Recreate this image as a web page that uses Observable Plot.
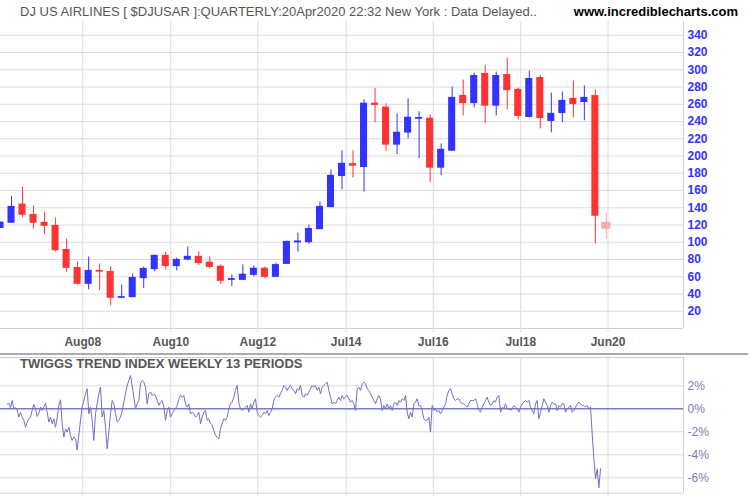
<!DOCTYPE html>
<html>
<head>
<meta charset="utf-8">
<script src="https://cdn.jsdelivr.net/npm/d3@7"></script>
<script src="https://cdn.jsdelivr.net/npm/@observablehq/plot@0.6"></script>
<style>
  html, body { margin: 0; padding: 0; background: #fff; }
  #wrap { position: relative; width: 750px; height: 500px; overflow: hidden; font-family: "Liberation Sans", Arial, sans-serif; }
  .abs { position: absolute; }
  #title { left: 20px; top: 4px; font-size: 13px; line-height: 15px; color: #555; white-space: nowrap; z-index: 2; }
  #site { right: 12px; top: 4px; font-size: 13px; line-height: 15px; font-weight: bold; color: #000; white-space: nowrap; z-index: 2; }
  #sep { left: 0; top: 353px; width: 748px; height: 2px; background: #acacac; z-index: 2; }
  #ttitle { left: 20px; top: 356px; font-size: 13px; line-height: 15px; font-weight: bold; color: #555; white-space: nowrap; z-index: 2; }
  #p1 { left: 0; top: 0; }
  #p2 { left: 0; top: 355px; }
</style>
</head>
<body>
<div id="wrap">
  <div id="p1" class="abs"></div>
  <div id="p2" class="abs"></div>
  <div id="title" class="abs">DJ US AIRLINES [ $DJUSAR ]:QUARTERLY:20Apr2020 22:32 New York : Data Delayed..</div>
  <div id="site" class="abs">www.incrediblecharts.com</div>
  <div id="sep" class="abs"></div>
  <div id="ttitle" class="abs">TWIGGS TREND INDEX WEEKLY 13 PERIODS</div>
</div>
<script>
// ---------- Quarterly candles (Q3 2006 .. Q2 2020) ----------
const quarters = [
  "2006Q3","2006Q4","2007Q1","2007Q2","2007Q3","2007Q4","2008Q1","2008Q2","2008Q3","2008Q4",
  "2009Q1","2009Q2","2009Q3","2009Q4","2010Q1","2010Q2","2010Q3","2010Q4","2011Q1","2011Q2",
  "2011Q3","2011Q4","2012Q1","2012Q2","2012Q3","2012Q4","2013Q1","2013Q2","2013Q3","2013Q4",
  "2014Q1","2014Q2","2014Q3","2014Q4","2015Q1","2015Q2","2015Q3","2015Q4","2016Q1","2016Q2",
  "2016Q3","2016Q4","2017Q1","2017Q2","2017Q3","2017Q4","2018Q1","2018Q2","2018Q3","2018Q4",
  "2019Q1","2019Q2","2019Q3","2019Q4","2020Q1","2020Q2"
];
const openV = [
  116.6,122.7,143.6,131.6,122.4,118.9,91.0,70.1,51.9,66.7,
  65.5,35.7,36.5,58.5,69.0,84.1,72.5,80.0,83.0,76.2,
  71.5,56.5,56.5,62.3,69.2,60.0,75.0,100.0,100.2,115.3,
  140.9,176.9,190.5,187.4,260.6,256.0,213.3,227.3,243.3,243.2,
  186.6,206.2,269.6,261.5,295.0,258.5,293.8,276.5,245.4,290.4,
  240.8,250.0,266.2,262.7,269.4,122.4
];
const highV = [
  123.0,152.9,164.1,142.1,135.1,128.2,103.8,77.1,82.9,74.8,
  71.3,50.4,63.2,71.3,85.2,88.7,81.7,94.5,88.8,83.1,
  73.8,62.3,73.8,72.7,71.5,75.9,101.4,110.7,119.9,146.7,
  183.9,206.0,206.0,265.3,278.1,260.6,249.0,266.4,251.3,247.8,
  214.1,280.0,288.1,296.2,305.4,297.3,313.5,278.8,298.5,293.8,
  273.1,274.2,286.9,281.2,276.3,133.9
];
const lowV = [
  116.0,122.7,128.6,115.4,108.8,88.7,65.5,50.4,45.0,43.8,
  26.4,34.5,35.7,46.2,65.9,67.8,66.7,78.5,73.0,69.2,
  50.8,48.5,55.4,60.0,57.7,60.0,75.0,88.6,97.8,115.3,
  140.9,160.6,174.6,158.3,238.5,205.2,201.7,219.9,197.1,169.1,
  177.3,206.0,246.5,255.8,237.3,246.5,253.5,241.9,244.2,231.5,
  226.9,238.5,244.2,240.8,98.1,103.1
];
const closeV = [
  122.7,140.9,132.0,122.7,119.3,91.0,70.5,51.9,66.7,66.0,
  35.7,36.3,58.5,69.0,84.1,72.5,79.4,83.0,76.0,71.5,
  55.4,57.2,62.3,69.2,60.0,73.4,100.3,100.8,115.3,140.9,
  176.9,190.9,188.9,260.6,259.4,213.3,226.9,244.3,244.0,186.6,
  207.1,267.3,261.5,292.7,258.5,292.7,276.5,246.5,289.2,244.2,
  248.8,263.8,260.4,267.3,130.9,115.8
];
const priceTicks = [20,40,60,80,100,120,140,160,180,200,220,240,260,280,300,320,340];

// ---------- Date axis (positions in quarters since Q3 2006) ----------
const xTickLabels = ["Aug08","Aug10","Aug12","Jul14","Jul16","Jul18","Jun20"];
const xTickPos    = [7.47, 15.46, 23.36, 31.38, 39.28, 47.23, 55.15];

// ---------- Twiggs Trend Index (%), sampled every ~2 weeks ----------
const twigStart = 0.605;   // quarters since Q3 2006
const twigStep  = 0.1513;  // quarters between samples
const twigVals = [
  0.38,0.49,0.1,0.72,0,0.1,-0.1,-0.72,-0.3,-0.72,-1.0,-1.6,-1.16,-0.87,-0.72,-0.15,0.38,0,-0.67,-0.43,
  0.14,-0.15,0.14,0.49,-0.3,-1.16,-0.72,-1.3,-0.87,-1.6,-0.8,0.3,0.78,-1.3,-2.46,-1.74,-2.03,-1.6,-2.3,-2.75,
  -2.46,-2.6,-3.57,-2.3,-1.0,0.14,0.72,1.3,1.74,-0.43,0.14,-1.0,-2.75,-0.43,0.43,1.3,1.88,-0.72,-0.15,-1.6,
  -3.48,-2.0,-0.43,0.72,0.43,-0.43,-1.16,-1.0,-0.72,-0.15,0.58,1.3,2.03,2.46,2.9,2.03,1.01,0,0.43,0.72,
  2.17,2.46,2.32,1.88,0.43,1.3,1.45,1.16,1.3,1.16,0.72,0.29,0.58,0.72,0.14,-1.0,-0.15,0.14,-0.72,-0.43,
  -0.15,0,0.29,0.87,1.16,1.01,1.16,0.43,0.14,0.43,-0.43,-0.3,-0.43,-0.72,-0.58,-0.3,-1.3,-0.72,-0.3,-0.15,
  -1.0,-0.87,-1.3,-1.45,-1.88,-2.32,-2.46,-2.6,-1.74,-1.3,-0.87,-1.0,-0.72,0,0.43,0.58,1.01,1.6,2.03,0.5,
  0,-0.15,0,0.14,0.29,-0.3,0.43,0,0.58,0.87,-0.3,-0.58,-0.72,-0.58,-0.3,-0.43,-0.15,-0.58,-0.3,0,
  0.72,1.01,1.16,1.01,1.3,1.6,2.03,1.88,1.6,1.88,2.03,1.74,1.6,1.3,1.74,1.6,2.03,1.16,1.01,1.3,
  1.16,1.45,1.74,2.03,1.88,2.03,1.6,1.88,1.3,1.88,2.03,2.17,2.32,1.6,1.01,0.43,0.58,0.43,0.72,1.01,
  0.72,1.16,0.87,1.01,1.16,0.87,0.58,0.72,0.43,-0.15,1.74,1.88,1.6,2.17,2.32,2.17,1.74,1.6,1.3,1.01,
  0.72,0.43,0.87,1.16,0.87,-0.15,0.29,0,0.43,0,0.29,-0.15,0.43,0.58,0.29,0.72,0.58,0.87,0.72,1.16,
  -0.3,-0.87,-0.3,-0.72,0.43,0.58,0.87,0.29,0.29,-0.15,-0.87,-1.0,-1.0,-0.72,-2.03,0.29,-0.15,0,-0.3,-0.15,
  -0.43,-0.15,0.14,0.43,1.16,1.6,1.74,1.3,0.87,0.72,0.87,0.87,0.58,0.43,0.43,0.29,0.14,0.43,0.72,0.72,
  0.72,0.87,0.43,-0.15,-0.3,0.14,0.43,0.72,1.01,0.58,0.29,0.43,0.72,0.58,1.01,1.16,-0.3,0.14,0,0.43,
  0,0,-0.15,0,0.29,0.14,0,-0.3,0.14,0.43,0.58,0.72,0.58,0.72,0.14,-0.15,-0.43,0.43,0.72,-0.87,
  -0.3,0.29,0.87,0.58,0.29,-0.3,0.29,0.58,0.43,0.43,-0.15,0.29,0.14,0.43,0.43,-0.3,0,0.14,0.29,-0.3,
  -0.15,0.14,0.43,0.58,0.43,0.29,0.29,0.14,0.29,0,0.14,-2.2,-4.35,-6.09,-5.22,-6.87,-5.22
];
const pctTicks = [-6,-4,-2,0,2];

// ---------- Build ----------
const fontFam = '"Liberation Sans", Arial, sans-serif';
const upColor = "#3333ff", downColor = "#ff3333", partialColor = "#ffaaaa";
const gridColor = "#dcdcdc", frameColor = "#cfcfcf";

const candles = quarters.map((q, i) => ({
  i, q, o: openV[i], h: highV[i], l: lowV[i], c: closeV[i], partial: i === quarters.length - 1
}));
const candleColor = d => d.partial ? partialColor : (d.c >= d.o ? upColor : downColor);
const halfW = d => d.partial ? 0.41 : 0.32;
const labelMap = new Map(xTickPos.map((p, k) => [p, xTickLabels[k]]));
const xDomain = [0, 62];

const priceChart = Plot.plot({
  width: 750, height: 352,
  marginTop: 21, marginBottom: 24, marginLeft: 0, marginRight: 67,
  style: { fontFamily: fontFam, background: "transparent" },
  x: { type: "linear", domain: xDomain, axis: null, label: null },
  y: { domain: [0, 356], axis: null, label: null },
  color: { type: "identity" },
  marks: [
    Plot.gridY(priceTicks, { stroke: gridColor, strokeOpacity: 1 }),
    Plot.gridX(xTickPos, { stroke: gridColor, strokeOpacity: 1 }),
    Plot.ruleY([0], { stroke: frameColor }),
    Plot.ruleX([xDomain[1]], { stroke: frameColor }),
    Plot.axisX(xTickPos, {
      label: null, tickSize: 4, tickPadding: 5, stroke: gridColor, fill: "#555",
      fontSize: 12, fontWeight: "bold", tickFormat: d => labelMap.get(d)
    }),
    Plot.axisY(priceTicks, {
      label: null, anchor: "right", tickSize: 0, tickPadding: 4, textAnchor: "start",
      fill: "#3333ff", fontSize: 12, fontWeight: "bold", tickFormat: d => String(d)
    }),
    Plot.ruleX(candles, { x: "i", y1: "l", y2: "h", stroke: candleColor, strokeWidth: 1, clip: true }),
    Plot.rect(candles, {
      x1: d => d.i - halfW(d), x2: d => d.i + halfW(d),
      y1: d => Math.min(d.o, d.c), y2: d => Math.max(d.o, d.c),
      fill: candleColor, insetTop: -0.6, insetBottom: -0.6, clip: true
    })
  ]
});
document.getElementById("p1").appendChild(priceChart);

const twig = twigVals.map((v, k) => ({ t: twigStart + k * twigStep, v }));
const yDom2 = [-7.34, 4.46];
const trendChart = Plot.plot({
  width: 750, height: 145,
  marginTop: 2, marginBottom: 7.3, marginLeft: 0, marginRight: 67,
  style: { fontFamily: fontFam, background: "transparent" },
  x: { type: "linear", domain: xDomain, axis: null, label: null },
  y: { domain: yDom2, axis: null, label: null },
  marks: [
    Plot.gridY(pctTicks.filter(d => d !== 0), { stroke: gridColor, strokeOpacity: 1 }),
    Plot.gridX(xTickPos, { stroke: gridColor, strokeOpacity: 1 }),
    Plot.ruleY([yDom2[0], yDom2[1]], { stroke: frameColor }),
    Plot.ruleX([xDomain[1]], { stroke: frameColor }),
    Plot.axisX(xTickPos, { label: null, tickSize: 4, stroke: gridColor, tickFormat: () => "" }),
    Plot.axisY(pctTicks, {
      label: null, anchor: "right", tickSize: 0, tickPadding: 4, textAnchor: "start",
      fill: "#7b7bbd", fontSize: 12, tickFormat: d => d + "%"
    }),
    Plot.ruleY([0], { stroke: "#7b7bc6", strokeWidth: 1.5 }),
    Plot.line(twig, { x: "t", y: "v", stroke: "#7070c0", strokeWidth: 1 })
  ]
});
document.getElementById("p2").appendChild(trendChart);
</script>
</body>
</html>
